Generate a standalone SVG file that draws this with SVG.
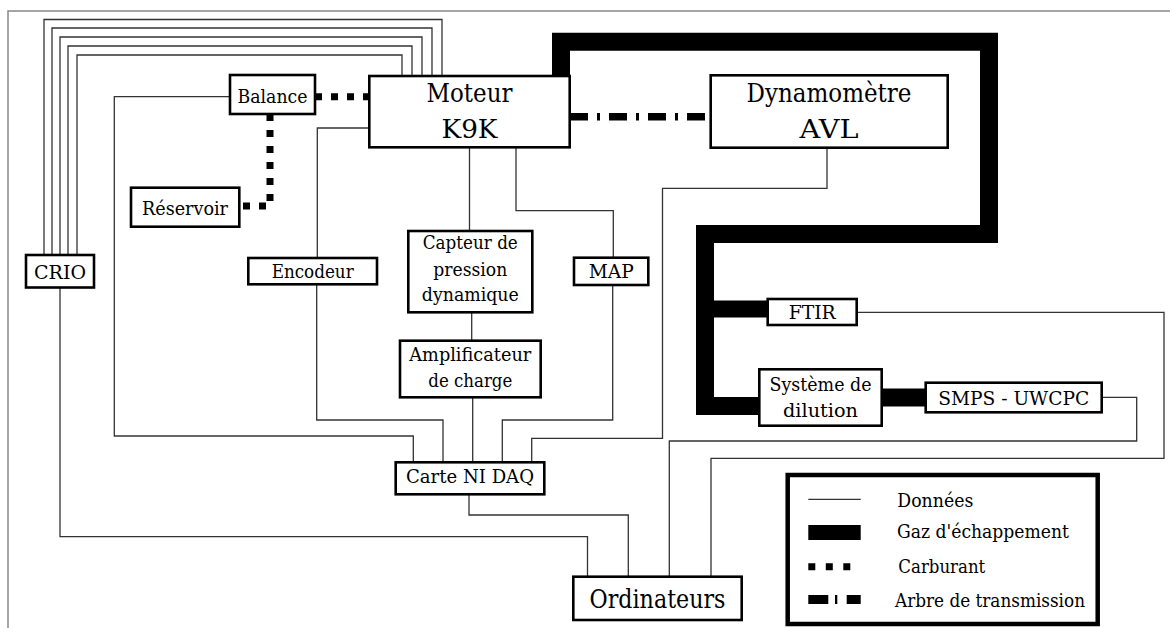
<svg xmlns="http://www.w3.org/2000/svg" width="1170" height="628" viewBox="0 0 1170 628">
<style>
text{font-family:"DejaVu Serif","Liberation Serif",serif;fill:#000;text-anchor:middle}
.s{font-size:19px}
.b{font-size:26px}
.lg{font-size:18.5px;text-anchor:start}
.box{fill:#fff;stroke:#000;stroke-width:2.6}
.data{fill:none;stroke:#333;stroke-width:1.3}
.gas{fill:none;stroke:#000;stroke-linejoin:miter;stroke-linecap:butt}
.fuel{fill:none;stroke:#000;stroke-width:7;stroke-dasharray:7 9}
.shaft{fill:none;stroke:#000;stroke-width:7.5;stroke-dasharray:18 9 3 9}
</style>
<rect x="0" y="0" width="1170" height="628" fill="#fff"/>
<rect x="8" y="11" width="1200" height="700" fill="none" stroke="#888" stroke-width="1.5"/>
<g id="connectors">
  <path class="gas" stroke-width="18" d="M561,76 V41.7 H989 V234 H705 V406 H760"/>
  <path class="gas" stroke-width="17" d="M705,309 H768"/>
  <path class="gas" stroke-width="18" d="M881,397.5 H926"/>
  <path class="fuel" d="M315,96.7 H369"/>
  <path class="fuel" d="M270,114 V206 H239"/>
  <path class="shaft" d="M570,116.7 H711"/>
  <path class="data" d="M44,255 V19.5 H442 V76"/>
  <path class="data" d="M52,255 V28 H432 V76"/>
  <path class="data" d="M60,255 V37 H422 V76"/>
  <path class="data" d="M68,255 V46 H412 V76"/>
  <path class="data" d="M77,255 V55 H402 V76"/>
  <path class="data" d="M60,287 V536.7 H587.5 V577"/>
  <path class="data" d="M230,96.7 H114.3 V436 H413.3 V462"/>
  <path class="data" d="M369,128 H317.3 V258"/>
  <path class="data" d="M316.7,284 V420 H443 V462"/>
  <path class="data" d="M469.5,147 V231"/>
  <path class="data" d="M471.7,312 V341"/>
  <path class="data" d="M472.7,397 V462"/>
  <path class="data" d="M516,147 V210.7 H613.3 V258"/>
  <path class="data" d="M612.7,285 V420 H502.3 V462"/>
  <path class="data" d="M827,147.7 V188.3 H662.5 V438.3 H531.7 V462"/>
  <path class="data" d="M469,494 V515 H628.3 V577"/>
  <path class="data" d="M1101.7,397.3 H1136.7 V441 H669.3 V577"/>
  <path class="data" d="M856.7,312.3 H1164 V458.3 H711 V577"/>
</g>
<g id="moteur"><rect class="box" x="369.3" y="76" width="200.4" height="71.3"/><text class="b" x="469.5" y="101.7" textLength="86" lengthAdjust="spacingAndGlyphs">Moteur</text><text class="b" x="469.5" y="138.3" textLength="56" lengthAdjust="spacingAndGlyphs">K9K</text></g>
<g id="dynamometre"><rect class="box" x="710.7" y="75.3" width="237" height="72.4"/><text class="b" x="829" y="101.7" textLength="165" lengthAdjust="spacingAndGlyphs">Dynamomètre</text><text class="b" x="829" y="138.3" textLength="59" lengthAdjust="spacingAndGlyphs">AVL</text></g>
<g id="balance"><rect class="box" x="230" y="75" width="85" height="39"/><text class="s" x="272.5" y="102.7" textLength="70" lengthAdjust="spacingAndGlyphs">Balance</text></g>
<g id="reservoir"><rect class="box" x="131" y="187.7" width="108.3" height="39"/><text class="s" x="185" y="215" textLength="86" lengthAdjust="spacingAndGlyphs">Réservoir</text></g>
<g id="crio"><rect class="box" x="26" y="255" width="68" height="32.5"/><text class="s" x="60" y="278.5" textLength="52" lengthAdjust="spacingAndGlyphs">CRIO</text></g>
<g id="encodeur"><rect class="box" x="248.3" y="258" width="128.7" height="26.3"/><text class="s" x="312.7" y="277.5" textLength="82" lengthAdjust="spacingAndGlyphs">Encodeur</text></g>
<g id="map"><rect class="box" x="574" y="257.7" width="74.3" height="27.3"/><text class="s" x="611.2" y="277.5" textLength="45" lengthAdjust="spacingAndGlyphs">MAP</text></g>
<g id="capteur"><rect class="box" x="408.3" y="231" width="124" height="81.3"/><text class="s" x="470.3" y="249.3" textLength="95" lengthAdjust="spacingAndGlyphs">Capteur de</text><text class="s" x="470.3" y="276.3" textLength="74" lengthAdjust="spacingAndGlyphs">pression</text><text class="s" x="470.3" y="301.3" textLength="97" lengthAdjust="spacingAndGlyphs">dynamique</text></g>
<g id="amplificateur"><rect class="box" x="400" y="340.7" width="140.7" height="56.6"/><text class="s" x="470.3" y="360.7" textLength="122" lengthAdjust="spacingAndGlyphs">Amplificateur</text><text class="s" x="470.3" y="387.3" textLength="84" lengthAdjust="spacingAndGlyphs">de charge</text></g>
<g id="daq"><rect class="box" x="395.7" y="462.3" width="148.6" height="32"/><text class="s" x="470" y="483.3" textLength="128" lengthAdjust="spacingAndGlyphs">Carte NI DAQ</text></g>
<g id="ordinateurs"><rect class="box" x="573.3" y="576.7" width="168.4" height="43.3"/><text class="b" x="657.5" y="607.7" textLength="136" lengthAdjust="spacingAndGlyphs">Ordinateurs</text></g>
<g id="ftir"><rect class="box" x="767.7" y="299" width="89" height="26"/><text class="s" x="812.2" y="319" textLength="47" lengthAdjust="spacingAndGlyphs">FTIR</text></g>
<g id="dilution"><rect class="box" x="759.3" y="369.3" width="122.4" height="56.4"/><text class="s" x="820.5" y="390.7" textLength="102" lengthAdjust="spacingAndGlyphs">Système de</text><text class="s" x="820.5" y="417.3" textLength="75" lengthAdjust="spacingAndGlyphs">dilution</text></g>
<g id="smps"><rect class="box" x="925.7" y="382.7" width="176" height="29.6"/><text class="s" x="1013.7" y="405" textLength="151" lengthAdjust="spacingAndGlyphs">SMPS - UWCPC</text></g>
<g id="legend">
  <rect x="787.7" y="475" width="310" height="149" fill="#fff" stroke="#000" stroke-width="4.5"/>
  <line x1="808.3" y1="499.3" x2="860.7" y2="499.3" stroke="#333" stroke-width="1.3"/>
  <rect x="808.3" y="525" width="52.4" height="15" fill="#000"/>
  <line x1="808.3" y1="566.7" x2="860.7" y2="566.7" stroke="#000" stroke-width="7" stroke-dasharray="7 10.5"/>
  <line x1="808.3" y1="599.5" x2="860.7" y2="599.5" stroke="#000" stroke-width="9" stroke-dasharray="20 6.7 2.3 9.4"/>
  <text class="lg" x="897.3" y="506.7" textLength="76" lengthAdjust="spacingAndGlyphs">Données</text>
  <text class="lg" x="897" y="538.3" textLength="172" lengthAdjust="spacingAndGlyphs">Gaz d'échappement</text>
  <text class="lg" x="898.3" y="573.3" textLength="87" lengthAdjust="spacingAndGlyphs">Carburant</text>
  <text class="lg" x="895" y="607.3" textLength="190" lengthAdjust="spacingAndGlyphs">Arbre de transmission</text>
</g>
</svg>
